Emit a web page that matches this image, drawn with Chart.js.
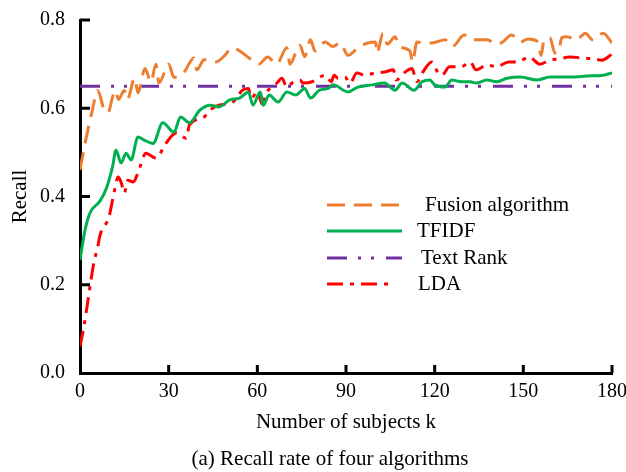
<!DOCTYPE html>
<html lang="en">
<head>
<meta charset="UTF-8">
<title>Recall rate of four algorithms</title>
<script src="https://cdn.jsdelivr.net/npm/chart.js"></script>
<style>
    html, body { margin: 0; padding: 0; background: #fff; }
    .chart-container { position: relative; width: 626px; height: 472px; }
</style>
</head>
<body>
<div class="chart-container"><canvas id="recallChart"></canvas></div>
<script>
    // values (k = number of subjects)
    const fusionK = [0, 2, 4, 6, 8, 9.5, 11, 12, 13, 15, 16, 18.5, 19.6, 22, 24, 25.7, 26.7, 30, 31.8, 35,
        38.6, 39.5, 42, 46, 49, 51.5, 54, 57, 60.5, 63.5, 66.5, 70, 71, 74.4, 76, 78, 79.5, 83, 85.6, 88,
        90.7, 94, 97.4, 100, 100.5, 102.5, 104, 106.6, 108, 111.6, 112.5, 114, 116.7, 119, 123.5, 126, 130, 133, 137.7, 141,
        143, 146, 149, 151.6, 155, 156, 157, 159, 160.7, 162, 163, 164.7, 168, 171, 173.5, 177, 180];
    const fusionVals = [0.46, 0.53, 0.59, 0.64, 0.60, 0.59, 0.625, 0.64, 0.62, 0.64, 0.62, 0.668, 0.635, 0.69, 0.66, 0.70, 0.657, 0.70, 0.67, 0.68,
        0.714, 0.687, 0.71, 0.705, 0.72, 0.737, 0.73, 0.715, 0.70, 0.716, 0.70, 0.737, 0.70, 0.743, 0.717, 0.755, 0.73, 0.75, 0.74, 0.748,
        0.72, 0.737, 0.748, 0.75, 0.725, 0.77, 0.745, 0.762, 0.74, 0.73, 0.705, 0.75, 0.748, 0.748, 0.755, 0.74, 0.766, 0.755, 0.755, 0.745,
        0.75, 0.766, 0.75, 0.757, 0.75, 0.72, 0.755, 0.76, 0.725, 0.73, 0.76, 0.762, 0.755, 0.77, 0.755, 0.77, 0.748];

    const tfidfK = [0, 1.7, 3.4, 6.8, 9, 11, 12.2, 13.9, 15.6, 17.3, 19.6, 21.7, 24.7, 28, 31.8, 34, 37, 40.6, 44, 47,
        50.7, 54, 57, 58.5, 61, 62, 64, 67, 70, 73, 76, 78, 81, 84, 85.6, 90.7, 94, 98.8, 103, 106.6,
        109, 113, 115.7, 118.4, 120, 123.5, 125.8, 129, 132, 134, 137.7, 141, 144.5, 149, 154.6, 159, 165.8, 171.5, 177, 180];
    const tfidfVals = [0.256, 0.324, 0.363, 0.39, 0.42, 0.467, 0.505, 0.476, 0.498, 0.483, 0.535, 0.528, 0.52, 0.567, 0.546, 0.58, 0.567, 0.596, 0.607, 0.603,
        0.619, 0.623, 0.637, 0.607, 0.637, 0.607, 0.63, 0.614, 0.637, 0.63, 0.645, 0.623, 0.641, 0.645, 0.653, 0.637, 0.648, 0.653, 0.657, 0.641,
        0.657, 0.641, 0.66, 0.664, 0.653, 0.648, 0.664, 0.66, 0.66, 0.657, 0.664, 0.66, 0.668, 0.671, 0.664, 0.671, 0.671, 0.673, 0.675, 0.68];

    const textRankK = [0, 180];
    const textRankVals = [0.65, 0.65];

    const ldaK = [0, 1.3, 2.7, 3.7, 4.7, 6, 6.8, 9.8, 11.5, 12.9, 14, 15, 16.2, 18, 19.6, 22.3, 25.7, 29, 32.5, 36,
        37, 41.6, 44, 47, 51.7, 55, 57, 58, 60, 61.6, 63, 65, 66.6, 68.3, 70, 71.7, 74.4, 75.5, 78.5, 80.5,
        83, 85, 86, 87.3, 89.6, 91.3, 93.7, 96.4, 99.8, 103, 106, 107, 110, 112.3, 114, 116, 119, 121, 122.5, 125,
        129, 132, 134, 137.7, 141, 145, 148, 152, 155.6, 159, 162, 165.8, 170, 173.5, 176.6, 180];
    const ldaVals = [0.06, 0.104, 0.165, 0.21, 0.25, 0.286, 0.313, 0.354, 0.408, 0.444, 0.43, 0.408, 0.437, 0.433, 0.453, 0.498, 0.487, 0.52, 0.544, 0.532,
        0.562, 0.578, 0.596, 0.607, 0.614, 0.641, 0.645, 0.623, 0.637, 0.61, 0.635, 0.648, 0.657, 0.668, 0.648, 0.657, 0.664, 0.657, 0.66, 0.668,
        0.675, 0.66, 0.675, 0.668, 0.671, 0.657, 0.68, 0.675, 0.68, 0.682, 0.687, 0.664, 0.682, 0.69, 0.66, 0.682, 0.705, 0.682, 0.675, 0.694,
        0.694, 0.705, 0.687, 0.698, 0.694, 0.705, 0.705, 0.716, 0.70, 0.709, 0.712, 0.716, 0.714, 0.712, 0.709, 0.723];

    const xTicks = [0, 30, 60, 90, 120, 150, 180];
    const yTicks = [0.0, 0.2, 0.4, 0.6, 0.8];
    const caption = '(a) Recall rate of four algorithms';

    const serif = '"Liberation Serif", "Times New Roman", serif';

    function pts(ks, vs) {
        return ks.map((k, i) => ({ x: k, y: vs[i] }));
    }

    // inward tick marks, legend inside plot, caption under the figure
    const extras = {
        id: 'extras',
        afterDraw(chart) {
            const ctx = chart.ctx;
            const xs = chart.scales.x, ys = chart.scales.y;
            const area = chart.chartArea;
            ctx.save();
            ctx.strokeStyle = '#000';
            ctx.lineWidth = 3;
            ctx.setLineDash([]);
            xTicks.forEach(t => {
                if (t === 0) return;
                const px = xs.getPixelForValue(t);
                ctx.beginPath();
                ctx.moveTo(px, area.bottom);
                ctx.lineTo(px, area.bottom - 8);
                ctx.stroke();
            });
            yTicks.forEach(t => {
                if (t === 0) return;
                const py = ys.getPixelForValue(t);
                ctx.beginPath();
                ctx.moveTo(area.left, py);
                ctx.lineTo(area.left + 10, py);
                ctx.stroke();
            });

            // legend
            const rows = [
                { y: 205, x1: 327, x2: 402, tx: 425 },
                { y: 231, x1: 327, x2: 402, tx: 417 },
                { y: 258, x1: 327, x2: 402, tx: 421 },
                { y: 284, x1: 327, x2: 394, tx: 418 }
            ];
            ctx.font = '21px ' + serif;
            ctx.textBaseline = 'middle';
            ctx.textAlign = 'left';
            chart.data.datasets.forEach((ds, i) => {
                const r = rows[i];
                ctx.strokeStyle = ds.borderColor;
                ctx.lineWidth = ds.borderWidth;
                ctx.setLineDash(ds.borderDash || []);
                ctx.beginPath();
                ctx.moveTo(r.x1, r.y);
                ctx.lineTo(r.x2, r.y);
                ctx.stroke();
                ctx.setLineDash([]);
                ctx.fillStyle = '#000';
                ctx.fillText(ds.label, r.tx, r.y);
            });

            ctx.textAlign = 'center';
            ctx.fillText(caption, 330, 459);
            ctx.restore();
        }
    };

    new Chart(document.getElementById('recallChart'), {
        type: 'line',
        data: {
            datasets: [{
                label: 'Fusion algorithm',
                data: pts(fusionK, fusionVals),
                borderColor: '#ED7D31',
                borderWidth: 3,
                borderDash: [18, 9]
            }, {
                label: 'TFIDF',
                data: pts(tfidfK, tfidfVals),
                borderColor: '#00B050',
                borderWidth: 3
            }, {
                label: 'Text Rank',
                data: pts(textRankK, textRankVals),
                borderColor: '#7030A0',
                borderWidth: 3,
                borderDash: [20, 11, 3, 10, 3, 12]
            }, {
                label: 'LDA',
                data: pts(ldaK, ldaVals),
                borderColor: '#FF0000',
                borderWidth: 3,
                borderDash: [16, 7, 4, 7]
            }]
        },
        options: {
            responsive: true,
            maintainAspectRatio: false,
            animation: false,
            devicePixelRatio: 1,
            layout: { padding: { top: 20, right: 14, left: 0, bottom: 37 } },
            elements: {
                point: { radius: 0 },
                line: { cubicInterpolationMode: 'monotone', fill: false }
            },
            plugins: {
                legend: { display: false },
                tooltip: { enabled: false }
            },
            scales: {
                x: {
                    type: 'linear',
                    min: 0,
                    max: 180,
                    afterFit: s => { s.height = 62; s.paddingLeft = 0; s.paddingRight = 0; },
                    afterBuildTicks: s => { s.ticks = xTicks.map(v => ({ value: v })); },
                    ticks: { color: '#000', padding: 7, maxRotation: 0, font: { family: serif, size: 20 } },
                    grid: { drawOnChartArea: false, drawTicks: false },
                    border: { display: true, color: '#000', width: 3 },
                    title: {
                        display: true,
                        text: 'Number of subjects k',
                        color: '#000',
                        font: { family: serif, size: 21 },
                        padding: { top: 8, bottom: 0 }
                    }
                },
                y: {
                    min: 0,
                    max: 0.8,
                    afterFit: s => { s.width = 80; s.paddingTop = 0; s.paddingBottom = 0; },
                    afterBuildTicks: s => { s.ticks = yTicks.map(v => ({ value: v })); },
                    ticks: { color: '#000', padding: 15, font: { family: serif, size: 20 }, callback: v => v.toFixed(1) },
                    grid: { drawOnChartArea: false, drawTicks: false },
                    border: { display: true, color: '#000', width: 3 },
                    title: {
                        display: true,
                        text: 'Recall',
                        color: '#000',
                        font: { family: serif, size: 21 },
                        padding: { top: 8, bottom: 0 }
                    }
                }
            }
        },
        plugins: [extras]
    });
</script>
</body>
</html>
